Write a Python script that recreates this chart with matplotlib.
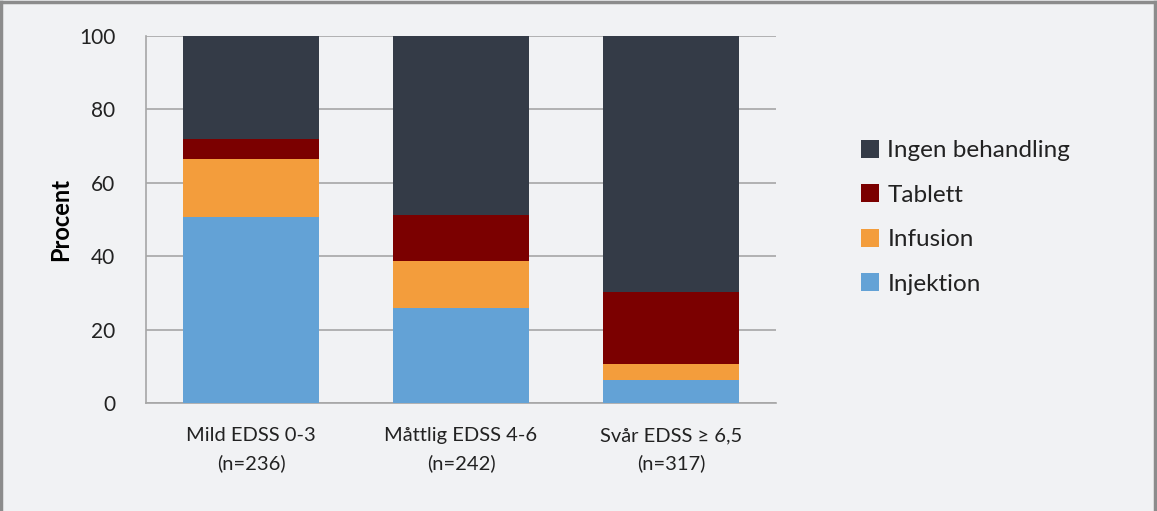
import matplotlib.pyplot as plt
from matplotlib.lines import Line2D

categories = ['Mild EDSS 0-3\n(n=236)', 'Måttlig EDSS 4-6\n(n=242)', 'Svår EDSS ≥ 6,5\n(n=317)']
injektion = [50.7, 25.9, 6.4]
infusion = [15.7, 12.9, 4.2]
tablett = [5.6, 12.5, 19.8]
ingen = [28.0, 48.7, 69.6]

bg = '#F1F2F4'
plt.rcParams['font.family'] = ['Lato', 'DejaVu Sans']

fig = plt.figure(figsize=(11.57, 5.11), dpi=100, facecolor=bg)
ax = fig.add_axes([0.1262, 0.2108, 0.5445, 0.7187])
ax.set_facecolor(bg)

x = list(range(len(categories)))
w = 0.643
b1 = injektion
b2 = [a + b for a, b in zip(b1, infusion)]
b3 = [a + b for a, b in zip(b2, tablett)]

ax.bar(x, injektion, w, color='#63A2D6', label='Injektion', zorder=3)
ax.bar(x, infusion, w, bottom=b1, color='#F39D3C', label='Infusion', zorder=3)
ax.bar(x, tablett, w, bottom=b2, color='#7B0000', label='Tablett', zorder=3)
ax.bar(x, ingen, w, bottom=b3, color='#343B47', label='Ingen behandling', zorder=3)

ax.set_xlim(-0.5, 2.5)
ax.set_ylim(0, 100)
ax.set_yticks([0, 20, 40, 60, 80, 100])
ax.yaxis.grid(True, color='#A6A6A6', linewidth=1.2, zorder=0)
for s in ['top', 'right']:
    ax.spines[s].set_visible(False)
for s in ['left', 'bottom']:
    ax.spines[s].set_color('#A6A6A6')
    ax.spines[s].set_linewidth(1.2)

ax.set_xticks(x)
ax.set_xticklabels(categories, fontsize=14.5, linespacing=1.7, color='#222222')
ax.tick_params(axis='x', length=0, pad=17)
ax.tick_params(axis='y', length=0, pad=22, labelsize=15, labelcolor='#222222')
ax.set_ylabel('Procent', fontsize=17, fontweight='bold', labelpad=5)

handles, labels = ax.get_legend_handles_labels()
leg = fig.legend(handles[::-1], labels[::-1], loc='center left', bbox_to_anchor=(0.725, 0.575),
                 frameon=False, fontsize=17.5, handlelength=0.75, handleheight=0.75,
                 handletextpad=0.35, labelspacing=0.95, labelcolor='#222222')

# grey frame on top, left and right
for xs, ys in [([0.001, 0.001], [0, 0.997]), ([0.001, 0.998], [0.997, 0.997]), ([0.998, 0.998], [0, 0.997])]:
    fig.add_artist(Line2D(xs, ys, transform=fig.transFigure, color='#8C8C8C', linewidth=2.5))

fig.savefig('out.png', dpi=100, facecolor=bg)
